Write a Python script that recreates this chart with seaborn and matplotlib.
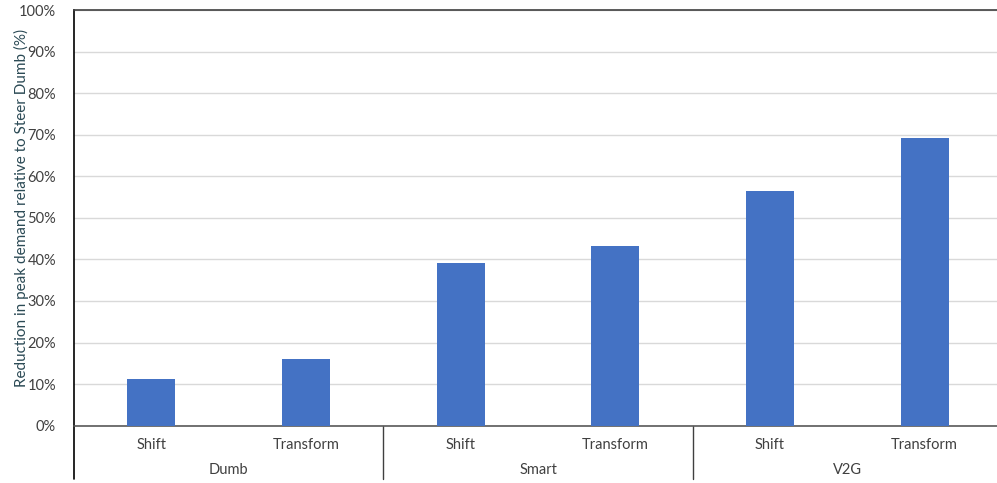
import matplotlib
matplotlib.use("Agg")
import matplotlib.pyplot as plt
import matplotlib.transforms as mtransforms
from matplotlib.ticker import PercentFormatter
import pandas as pd
import seaborn as sns

# Peak demand reduction by charging mode and scenario
groups = ["Dumb", "Smart", "V2G"]
scenarios = ["Shift", "Transform"]
reduction = [0.112, 0.160, 0.392, 0.433, 0.565, 0.691]
y_ticks = [0.0, 0.1, 0.2, 0.3, 0.4, 0.5, 0.6, 0.7, 0.8, 0.9, 1.0]

keys = [f"{g} {s}" for g in groups for s in scenarios]
df = pd.DataFrame({"key": keys, "reduction": reduction})

sns.set_theme(style="white")
plt.rcParams["font.family"] = ["Lato", "DejaVu Sans"]

TEXT = "#404040"
BAR = "#4472C4"

fig = plt.figure(figsize=(9.97, 4.83), dpi=100)
ax = fig.add_axes([74 / 997, 1 - 425.7 / 483, 928 / 997, 415.7 / 483])

sns.barplot(data=df, x="key", y="reduction", order=keys, color=BAR,
            width=0.31, saturation=1, linewidth=0, ax=ax, zorder=3)

ax.set_xlim(-0.5, len(keys) - 0.5)
ax.set_ylim(0, 1.0)
ax.set_yticks(y_ticks)
ax.yaxis.set_major_formatter(PercentFormatter(xmax=1.0, decimals=0))
ax.grid(axis="y", color="#D9D9D9", linewidth=1, zorder=0)
ax.set_axisbelow(True)

ax.spines["right"].set_visible(False)
ax.spines["left"].set_color("#000000")
ax.spines["left"].set_linewidth(1.2)
ax.spines["top"].set_color("#404040")
ax.spines["top"].set_linewidth(1.2)
ax.spines["bottom"].set_color("#595959")
ax.spines["bottom"].set_linewidth(1.2)

ax.set_xticks(range(len(keys)))
ax.set_xticklabels([s for g in groups for s in scenarios])
ax.tick_params(axis="x", length=0, pad=9, labelsize=10.5, labelcolor=TEXT)
ax.tick_params(axis="y", length=0, pad=13, labelsize=10.5, labelcolor=TEXT)
ax.set_xlabel("")
ax.set_ylabel("Reduction in peak demand relative to Steer Dumb (%)",
              fontsize=11, color="#2B4A55")
ax.yaxis.set_label_coords(-0.049, 0.525)

# Group labels and separators beneath the category axis
trans = mtransforms.blended_transform_factory(ax.transData, ax.transAxes)
for i, g in enumerate(groups):
    ax.text(2 * i + 0.5, -0.107, g, transform=trans, ha="center", va="center",
            fontsize=10.5, color=TEXT)
for xb in [-0.5, 1.5, 3.5, 5.5]:
    ax.plot([xb, xb], [0, -0.128], transform=trans,
            color="#000000" if xb < 0 else "#404040",
            linewidth=1.2 if xb < 0 else 1.0, clip_on=False)

fig.savefig("out.png", dpi=100)
